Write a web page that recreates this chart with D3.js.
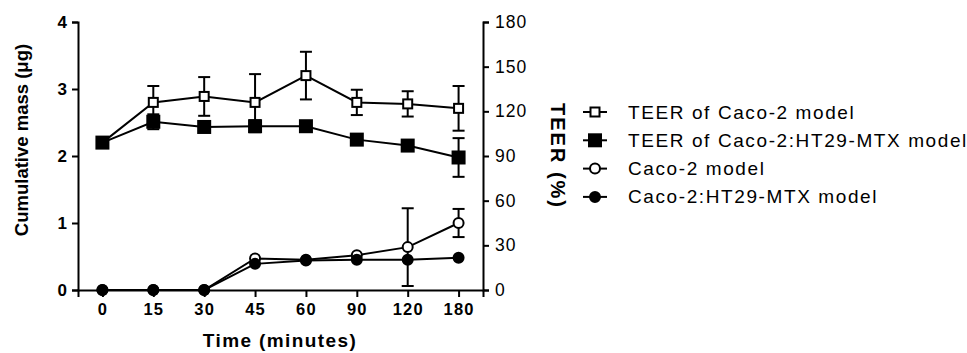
<!DOCTYPE html>
<html>
<head>
<meta charset="utf-8">
<script src="https://cdn.jsdelivr.net/npm/d3@7"></script>
<style>
  body { margin: 0; background: #fff; }
  svg { font-family: "Liberation Sans", Arial, sans-serif; }
</style>
</head>
<body>
<svg id="chart" width="967" height="353"></svg>
<script>
// time points (categorical x axis)
const times = ["0", "15", "30", "45", "60", "90", "120", "180"];

// TEER (%) - right axis
const teerCaco = [99, 126, 130, 126, 144, 126, 125, 122];
const teerCacoErr = [0, 11, 13, 19, 16, 8.5, 8.5, 15];
const teerCo = [99, 113, 109.5, 110, 110, 101, 97, 89];
const teerCoErr = [0, 5, 3, 4, 0, 0, 0, 13];

// cumulative mass (ug) - left axis
const massCaco = [0, 0, 0, 0.47, 0.45, 0.52, 0.64, 1.0];
const massCacoErr = [0, 0, 0, 0, 0, 0, 0.58, 0.21];
const massCo = [0, 0, 0, 0.39, 0.44, 0.45, 0.45, 0.48];
const massCoErr = [0, 0, 0, 0, 0, 0, 0, 0];

const leftTicks = [0, 1, 2, 3, 4];
const rightTicks = [0, 30, 60, 90, 120, 150, 180];
const legendNames = ["TEER of Caco-2 model", "TEER of Caco-2:HT29-MTX model", "Caco-2 model", "Caco-2:HT29-MTX model"];

let margin = {left: 78, top: 22, right: 483, bottom: 290};
let svg = d3.select("#chart");

let x = d3.scalePoint().domain(times).range([margin.left, margin.right]).padding(0.48);
let yL = d3.scaleLinear().domain([0, 4]).range([margin.bottom, margin.top]);
let yR = d3.scaleLinear().domain([0, 180]).range([margin.bottom, margin.top]);

// axes
svg.append("g")
  .attr("transform", "translate(0," + margin.bottom + ")")
  .call(d3.axisBottom(x).tickSizeOuter(0).tickSize(7).tickPadding(6))
  .call(g => g.selectAll("text").attr("font-size", 16.5).attr("font-weight", "bold").attr("letter-spacing", 1.2));

svg.append("g")
  .attr("transform", "translate(" + margin.left + ",0)")
  .call(d3.axisLeft(yL).tickValues(leftTicks).tickFormat(d3.format("d")).tickSizeOuter(0).tickSize(6).tickPadding(5))
  .call(g => g.selectAll("text").attr("font-size", 17).attr("font-weight", "bold"));

svg.append("g")
  .attr("transform", "translate(" + margin.right + ",0)")
  .call(d3.axisRight(yR).tickValues(rightTicks).tickSizeOuter(0).tickSize(6).tickPadding(6))
  .call(g => g.selectAll("text").attr("font-size", 17.5).attr("letter-spacing", 1));

svg.selectAll(".domain, .tick line").attr("stroke", "#000").attr("stroke-width", 2);
svg.selectAll(".tick text").attr("fill", "#000").attr("font-family", "Liberation Sans, Arial, sans-serif");

// axis titles
svg.append("text")
  .attr("transform", "translate(28,140) rotate(-90)")
  .attr("text-anchor", "middle")
  .attr("font-size", 18.5).attr("font-weight", "bold")
  .text("Cumulative mass (μg)");

svg.append("text")
  .attr("x", 280).attr("y", 347)
  .attr("text-anchor", "middle")
  .attr("font-size", 19).attr("font-weight", "bold")
  .attr("letter-spacing", 1.4)
  .text("Time (minutes)");

svg.append("text")
  .attr("transform", "translate(551,156) rotate(90)")
  .attr("text-anchor", "middle")
  .attr("font-size", 20).attr("font-weight", "bold")
  .attr("letter-spacing", 2)
  .text("TEER (%)");

// series
let series = [
  {vals: teerCaco, err: teerCacoErr, y: yR, shape: "square", fill: "#fff", size: 9},
  {vals: teerCo, err: teerCoErr, y: yR, shape: "square", fill: "#000", size: 12},
  {vals: massCaco, err: massCacoErr, y: yL, shape: "circle", fill: "#fff", size: 10},
  {vals: massCo, err: massCoErr, y: yL, shape: "circle", fill: "#000", size: 10}
];

let plot = svg.append("g");
let line = d3.line();

series.forEach(function(s){
  let pts = s.vals.map((v, i) => [x(times[i]), s.y(v)]);
  plot.append("path")
    .attr("d", line(pts))
    .attr("fill", "none").attr("stroke", "#000").attr("stroke-width", 2);
});

series.forEach(function(s){
  let eg = plot.append("g").attr("stroke", "#000").attr("stroke-width", 2);
  s.vals.forEach(function(v, i){
    if (!s.err[i]) return;
    let cx = x(times[i]);
    let y1 = s.y(v + s.err[i]), y2 = s.y(v - s.err[i]);
    eg.append("line").attr("x1", cx).attr("x2", cx).attr("y1", y1).attr("y2", y2);
    eg.append("line").attr("x1", cx - 6).attr("x2", cx + 6).attr("y1", y1).attr("y2", y1);
    eg.append("line").attr("x1", cx - 6).attr("x2", cx + 6).attr("y1", y2).attr("y2", y2);
  });
});

function drawMarker(g, s, cx, cy){
  if (s.shape === "square") {
    g.append("rect")
      .attr("x", cx - s.size / 2).attr("y", cy - s.size / 2)
      .attr("width", s.size).attr("height", s.size)
      .attr("fill", s.fill).attr("stroke", "#000").attr("stroke-width", 2);
  } else {
    g.append("circle")
      .attr("cx", cx).attr("cy", cy).attr("r", s.size / 2)
      .attr("fill", s.fill).attr("stroke", "#000").attr("stroke-width", 2);
  }
}

series.forEach(function(s){
  s.vals.forEach(function(v, i){
    drawMarker(plot, s, x(times[i]), s.y(v));
  });
});

// legend
let legend = svg.append("g");
legendNames.forEach(function(name, i){
  let ly = 112 + i * 28.3;
  legend.append("line")
    .attr("x1", 583).attr("x2", 607).attr("y1", ly).attr("y2", ly)
    .attr("stroke", "#000").attr("stroke-width", 2);
  drawMarker(legend, series[i], 595, ly);
  legend.append("text")
    .attr("x", 628).attr("y", ly + 6.5)
    .attr("font-size", 19)
    .attr("letter-spacing", 1.6)
    .text(name);
});
</script>
</body>
</html>
